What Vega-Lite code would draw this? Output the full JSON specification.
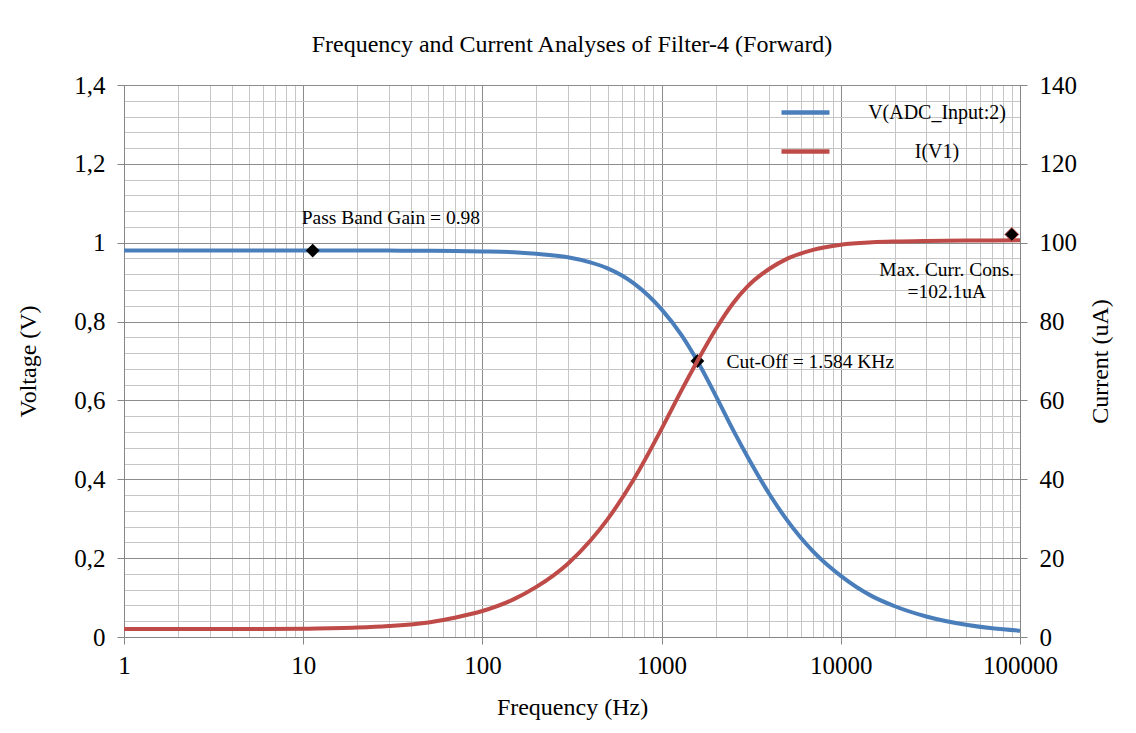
{
  "$schema": "https://vega.github.io/schema/vega-lite/v6.json",
  "width": 896,
  "height": 552,
  "autosize": {"type": "none"},
  "padding": {"left": 124, "top": 85, "right": 116, "bottom": 96},
  "background": "white",
  "config": {
    "view": {"stroke": null},
    "font": "Liberation Serif",
    "axis": {
      "labelFont": "Liberation Serif",
      "titleFont": "Liberation Serif",
      "labelFontSize": 25,
      "titleFontSize": 24,
      "titleFontWeight": "normal",
      "labelColor": "#000000",
      "titleColor": "#000000",
      "domainColor": "#868686",
      "tickColor": "#868686",
      "tickSize": 7
    },
    "legend": {
      "labelFont": "Liberation Serif",
      "labelFontSize": 20,
      "labelColor": "#000000"
    }
  },
  "title": {
    "text": "Frequency and Current Analyses of Filter-4 (Forward)",
    "font": "Liberation Serif",
    "fontSize": 24,
    "fontWeight": "normal",
    "color": "#000000",
    "anchor": "middle",
    "frame": "group",
    "offset": 16
  },
  "datasets": {
    "curves": [
      {"f": 1, "series": "V(ADC_Input:2)", "value": 0.98},
      {"f": 2, "series": "V(ADC_Input:2)", "value": 0.98},
      {"f": 5, "series": "V(ADC_Input:2)", "value": 0.98},
      {"f": 10, "series": "V(ADC_Input:2)", "value": 0.98},
      {"f": 20, "series": "V(ADC_Input:2)", "value": 0.98},
      {"f": 30, "series": "V(ADC_Input:2)", "value": 0.98},
      {"f": 50, "series": "V(ADC_Input:2)", "value": 0.9795},
      {"f": 70, "series": "V(ADC_Input:2)", "value": 0.979},
      {"f": 100, "series": "V(ADC_Input:2)", "value": 0.978},
      {"f": 150, "series": "V(ADC_Input:2)", "value": 0.976},
      {"f": 200, "series": "V(ADC_Input:2)", "value": 0.972},
      {"f": 300, "series": "V(ADC_Input:2)", "value": 0.963},
      {"f": 400, "series": "V(ADC_Input:2)", "value": 0.95},
      {"f": 500, "series": "V(ADC_Input:2)", "value": 0.935},
      {"f": 700, "series": "V(ADC_Input:2)", "value": 0.897},
      {"f": 1000, "series": "V(ADC_Input:2)", "value": 0.831},
      {"f": 1300, "series": "V(ADC_Input:2)", "value": 0.764},
      {"f": 1584, "series": "V(ADC_Input:2)", "value": 0.7},
      {"f": 2000, "series": "V(ADC_Input:2)", "value": 0.613},
      {"f": 2500, "series": "V(ADC_Input:2)", "value": 0.526},
      {"f": 3000, "series": "V(ADC_Input:2)", "value": 0.459},
      {"f": 4000, "series": "V(ADC_Input:2)", "value": 0.362},
      {"f": 5000, "series": "V(ADC_Input:2)", "value": 0.297},
      {"f": 7000, "series": "V(ADC_Input:2)", "value": 0.217},
      {"f": 10000, "series": "V(ADC_Input:2)", "value": 0.155},
      {"f": 15000, "series": "V(ADC_Input:2)", "value": 0.103},
      {"f": 20000, "series": "V(ADC_Input:2)", "value": 0.078},
      {"f": 30000, "series": "V(ADC_Input:2)", "value": 0.052},
      {"f": 50000, "series": "V(ADC_Input:2)", "value": 0.031},
      {"f": 70000, "series": "V(ADC_Input:2)", "value": 0.022},
      {"f": 100000, "series": "V(ADC_Input:2)", "value": 0.016},
      {"f": 1, "series": "I(V1)", "value": 2.0},
      {"f": 2, "series": "I(V1)", "value": 2.0},
      {"f": 5, "series": "I(V1)", "value": 2.0},
      {"f": 10, "series": "I(V1)", "value": 2.1},
      {"f": 20, "series": "I(V1)", "value": 2.4},
      {"f": 30, "series": "I(V1)", "value": 2.8},
      {"f": 50, "series": "I(V1)", "value": 3.7},
      {"f": 70, "series": "I(V1)", "value": 4.9},
      {"f": 100, "series": "I(V1)", "value": 6.6},
      {"f": 150, "series": "I(V1)", "value": 9.6},
      {"f": 200, "series": "I(V1)", "value": 12.7},
      {"f": 300, "series": "I(V1)", "value": 18.6},
      {"f": 400, "series": "I(V1)", "value": 24.4},
      {"f": 500, "series": "I(V1)", "value": 29.9},
      {"f": 700, "series": "I(V1)", "value": 40.0},
      {"f": 1000, "series": "I(V1)", "value": 52.8},
      {"f": 1300, "series": "I(V1)", "value": 62.8},
      {"f": 1584, "series": "I(V1)", "value": 70.0},
      {"f": 2000, "series": "I(V1)", "value": 78.0},
      {"f": 2500, "series": "I(V1)", "value": 84.6},
      {"f": 3000, "series": "I(V1)", "value": 88.8},
      {"f": 4000, "series": "I(V1)", "value": 93.4},
      {"f": 5000, "series": "I(V1)", "value": 95.9},
      {"f": 7000, "series": "I(V1)", "value": 98.2},
      {"f": 10000, "series": "I(V1)", "value": 99.5},
      {"f": 15000, "series": "I(V1)", "value": 100.1},
      {"f": 20000, "series": "I(V1)", "value": 100.3},
      {"f": 30000, "series": "I(V1)", "value": 100.45},
      {"f": 50000, "series": "I(V1)", "value": 100.55},
      {"f": 70000, "series": "I(V1)", "value": 100.58},
      {"f": 100000, "series": "I(V1)", "value": 100.6}
    ]
  },
  "layer": [
    {
      "layer": [
        {
          "data": {"name": "curves"},
          "transform": [{"filter": "datum.series === 'V(ADC_Input:2)'"}],
          "mark": {"type": "line", "strokeWidth": 4, "interpolate": "monotone"},
          "encoding": {
            "x": {
              "field": "f",
              "type": "quantitative",
              "scale": {"type": "log", "domain": [1, 100000], "nice": false},
              "title": "Frequency (Hz)",
              "axis": {
                "values": [1, 2, 3, 4, 5, 6, 7, 8, 9, 10, 20, 30, 40, 50, 60, 70, 80, 90, 100, 200, 300, 400, 500, 600, 700, 800, 900, 1000, 2000, 3000, 4000, 5000, 6000, 7000, 8000, 9000, 10000, 20000, 30000, 40000, 50000, 60000, 70000, 80000, 90000, 100000],
                "tickCount": 500,
                "grid": true,
                "gridColor": {"condition": {"test": "indexof([1,10,100,1000,10000,100000], datum.value) >= 0", "value": "#8c8c8c"}, "value": "#c6c6c6"},
                "gridWidth": 1,
                "tickOpacity": {"condition": {"test": "indexof([1,10,100,1000,10000,100000], datum.value) >= 0", "value": 1}, "value": 0},
                "labelExpr": "indexof([1,10,100,1000,10000,100000], datum.value) >= 0 ? format(datum.value, 'd') : ''",
                "labelPadding": 9,
                "labelFlush": false,
                "labelOverlap": false,
                "titlePadding": 17
              }
            },
            "y": {
              "field": "value",
              "type": "quantitative",
              "scale": {"domain": [0, 1.4], "nice": false},
              "title": "Voltage (V)",
              "axis": {
                "values": [0, 0.04, 0.08, 0.12, 0.16, 0.2, 0.24, 0.28, 0.32, 0.36, 0.4, 0.44, 0.48, 0.52, 0.56, 0.6, 0.64, 0.68, 0.72, 0.76, 0.8, 0.84, 0.88, 0.92, 0.96, 1, 1.04, 1.08, 1.12, 1.16, 1.2, 1.24, 1.28, 1.32, 1.36, 1.4],
                "tickCount": 500,
                "grid": true,
                "gridColor": {"condition": {"test": "abs(datum.value * 5 - round(datum.value * 5)) < 0.000001", "value": "#8c8c8c"}, "value": "#c6c6c6"},
                "tickOpacity": {"condition": {"test": "abs(datum.value * 5 - round(datum.value * 5)) < 0.000001", "value": 1}, "value": 0},
                "labelExpr": "abs(datum.value * 5 - round(datum.value * 5)) < 0.000001 ? replace(format(datum.value, '~g'), '.', ',') : ''",
                "labelPadding": 12,
                "labelOverlap": false,
                "labelFlush": false,
                "titlePadding": 33
              }
            },
            "color": {
              "field": "series",
              "type": "nominal",
              "scale": {"domain": ["V(ADC_Input:2)", "I(V1)"], "range": ["#4a7ebb", "#be4b48"]},
              "legend": {
                "title": null,
                "orient": "none",
                "legendX": 655,
                "legendY": 8,
                "padding": 0,
                "symbolType": "stroke",
                "symbolSize": 2304,
                "symbolStrokeWidth": 4.5,
                "clipHeight": 39,
                "rowPadding": 0,
                "labelAlign": "center",
                "labelOffset": 105,
                "labelLimit": 300
              }
            }
          }
        },
        {
          "data": {"values": [{"f": 11.3, "value": 0.98}, {"f": 1584, "value": 0.7}]},
          "mark": {"type": "point", "shape": "diamond", "filled": true, "color": "#000000", "size": 190, "opacity": 1},
          "encoding": {
            "x": {"field": "f", "type": "quantitative"},
            "y": {"field": "value", "type": "quantitative"}
          }
        },
        {
          "data": {"values": [{"f": 11.3, "value": 0.98, "label": "Pass Band Gain = 0.98"}]},
          "mark": {"type": "text", "align": "left", "baseline": "middle", "dx": -11, "dy": -33, "fontSize": 19.5, "font": "Liberation Serif", "color": "#000000"},
          "encoding": {
            "x": {"field": "f", "type": "quantitative"},
            "y": {"field": "value", "type": "quantitative"},
            "text": {"field": "label"}
          }
        },
        {
          "data": {"values": [{"f": 1584, "value": 0.7, "label": "Cut-Off = 1.584 KHz"}]},
          "mark": {"type": "text", "align": "left", "baseline": "middle", "dx": 29, "dy": 1, "fontSize": 19.5, "font": "Liberation Serif", "color": "#000000"},
          "encoding": {
            "x": {"field": "f", "type": "quantitative"},
            "y": {"field": "value", "type": "quantitative"},
            "text": {"field": "label"}
          }
        }
      ]
    },
    {
      "layer": [
        {
          "data": {"name": "curves"},
          "transform": [{"filter": "datum.series === 'I(V1)'"}],
          "mark": {"type": "line", "strokeWidth": 4, "interpolate": "monotone"},
          "encoding": {
            "x": {"field": "f", "type": "quantitative"},
            "y": {
              "field": "value",
              "type": "quantitative",
              "scale": {"domain": [0, 140], "nice": false},
              "title": "Current (uA)",
              "axis": {
                "orient": "right",
                "values": [0, 20, 40, 60, 80, 100, 120, 140],
                "format": "d",
                "grid": false,
                "labelPadding": 12,
                "titleAngle": 270,
                "titlePadding": 36
              }
            },
            "color": {"field": "series", "type": "nominal"}
          }
        },
        {
          "data": {"values": [{"f": 90000, "value": 102.1, "label": ["Max. Curr. Cons.", "=102.1uA"]}]},
          "layer": [
            {
              "mark": {"type": "point", "shape": "diamond", "filled": true, "color": "#000000", "stroke": "#be4b48", "strokeWidth": 1, "size": 190, "opacity": 1},
              "encoding": {
                "x": {"field": "f", "type": "quantitative"},
                "y": {"field": "value", "type": "quantitative"}
              }
            },
            {
              "mark": {"type": "text", "align": "center", "baseline": "top", "dx": -65, "dy": 27, "lineHeight": 22, "fontSize": 19.5, "font": "Liberation Serif", "color": "#000000"},
              "encoding": {
                "x": {"field": "f", "type": "quantitative"},
                "y": {"field": "value", "type": "quantitative"},
                "text": {"field": "label"}
              }
            }
          ]
        }
      ]
    }
  ],
  "resolve": {"scale": {"y": "independent"}}
}
